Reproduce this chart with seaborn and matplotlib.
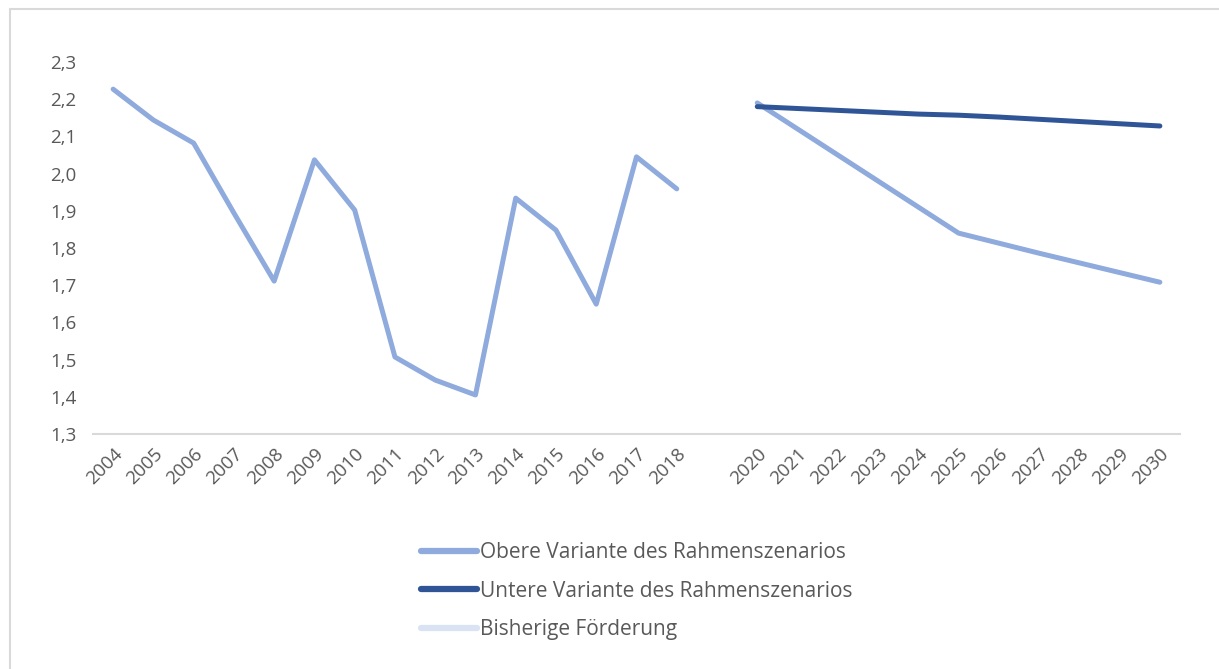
import numpy as np
import pandas as pd
import matplotlib
matplotlib.use("Agg")
import matplotlib.pyplot as plt
from matplotlib.lines import Line2D
import seaborn as sns

# Category axis: 2004-2018, an empty slot, then 2020-2030
years = [str(y) for y in range(2004, 2019)] + [""] + [str(y) for y in range(2020, 2031)]

obere_hist = [2.227, 2.144, 2.082, 1.894, 1.711, 2.037, 1.902, 1.507, 1.445, 1.405,
              1.934, 1.848, 1.649, 2.045, 1.959]
obere_proj = [2.19, 2.12, 2.05, 1.98, 1.91, 1.84, 1.813, 1.786, 1.76, 1.734, 1.708]
untere_proj = [2.18, 2.175, 2.17, 2.165, 2.16, 2.157, 2.152, 2.146, 2.14, 2.134, 2.128]

labels = ["Obere Variante des Rahmenszenarios",
          "Untere Variante des Rahmenszenarios",
          "Bisherige Förderung"]
colors = ["#8FAADC", "#2F5597", "#DAE3F3"]

sns.set_theme(style="white")
plt.rcParams["font.family"] = ["Open Sans", "DejaVu Sans"]

n = len(years)
x = np.arange(n)
nan = [np.nan]
obere = obere_hist + nan + obere_proj
untere = [np.nan] * (len(obere_hist) + 1) + untere_proj

df = pd.DataFrame({"x": x, "obere": obere, "untere": untere})

fig = plt.figure(figsize=(12.19, 6.69), dpi=100)
ax = fig.add_axes([93 / 1219, 1 - 434 / 669, (1180 - 93) / 1219, (434 - 62) / 669])

lw = 3.6
# Historical and projected segments drawn separately so the gap stays open
hist = df.iloc[:len(obere_hist)]
proj = df.iloc[len(obere_hist) + 1:]
sns.lineplot(data=hist, x="x", y="obere", ax=ax, color=colors[0], lw=lw,
             solid_capstyle="round", solid_joinstyle="round")
sns.lineplot(data=proj, x="x", y="obere", ax=ax, color=colors[0], lw=lw,
             solid_capstyle="round", solid_joinstyle="round")
sns.lineplot(data=proj, x="x", y="untere", ax=ax, color=colors[1], lw=lw,
             solid_capstyle="round", solid_joinstyle="round")

ax.set_xlim(-0.5, n - 0.5)
ax.set_ylim(1.3, 2.3)
yt = np.round(np.arange(1.3, 2.31, 0.1), 1)
ax.set_yticks(yt)
ax.set_yticklabels([f"{v:.1f}".replace(".", ",") for v in yt])
ax.set_xticks(x)
ax.set_xticklabels(years, rotation=45, ha="right", rotation_mode="anchor")
ax.tick_params(axis="both", length=0, labelsize=13.5, colors="#595959")
ax.tick_params(axis="y", pad=12)
ax.tick_params(axis="x", pad=8)
ax.set_xlabel("")
ax.set_ylabel("")
for s in ["top", "right", "left"]:
    ax.spines[s].set_visible(False)
ax.spines["bottom"].set_color("#D9D9D9")
ax.spines["bottom"].set_linewidth(1.5)

handles = [Line2D([0], [0], color=c, lw=4.5, solid_capstyle="round") for c in colors]
fig.legend(handles, labels, loc="upper left", bbox_to_anchor=(421 / 1219, 1 - 542 / 669),
           frameon=False, fontsize=15, handlelength=2.7, handletextpad=0.15,
           labelspacing=0.85, borderpad=0, borderaxespad=0, labelcolor="#595959")

# Frame edges along the top and left of the canvas
fig.add_artist(Line2D([10 / 1219, 10 / 1219], [0, 1 - 9 / 669], color="#D9D9D9", lw=1.5,
                      transform=fig.transFigure))
fig.add_artist(Line2D([10 / 1219, 1], [1 - 9 / 669, 1 - 9 / 669], color="#D9D9D9", lw=1.5,
                      transform=fig.transFigure))

fig.savefig("out.png", dpi=100, facecolor="white")
